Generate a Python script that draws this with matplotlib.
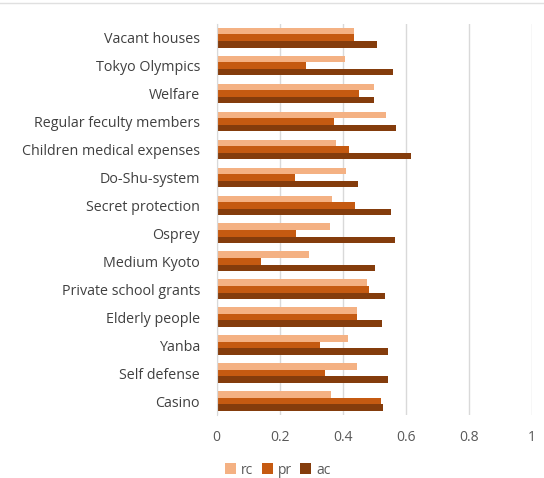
import matplotlib
matplotlib.use("Agg")
import matplotlib.pyplot as plt
import numpy as np
from matplotlib.lines import Line2D

categories = ["Vacant houses", "Tokyo Olympics", "Welfare", "Regular feculty members",
              "Children medical expenses", "Do-Shu-system", "Secret protection", "Osprey",
              "Medium Kyoto", "Private school grants", "Elderly people", "Yanba",
              "Self defense", "Casino"]
rc = [0.436, 0.406, 0.499, 0.537, 0.380, 0.409, 0.366, 0.359, 0.292, 0.477, 0.446, 0.416, 0.446, 0.363]
pr = [0.436, 0.283, 0.453, 0.372, 0.419, 0.249, 0.440, 0.252, 0.142, 0.483, 0.446, 0.327, 0.344, 0.520]
ac = [0.510, 0.561, 0.499, 0.570, 0.618, 0.450, 0.553, 0.567, 0.504, 0.533, 0.524, 0.544, 0.544, 0.527]
series_names = ["rc", "pr", "ac"]
colors = ["#F4B183", "#C55A11", "#843C0C"]
xticks = [0, 0.2, 0.4, 0.6, 0.8, 1]
xticklabels = ["0", "0.2", "0.4", "0.6", "0.8", "1"]

plt.rcParams['font.family'] = ['Open Sans', 'DejaVu Sans']
fig = plt.figure(figsize=(5.44, 4.78), dpi=100)
ax = fig.add_axes([216.7/544, (478-415)/478, (531.7-216.7)/544, (415-23.7)/478])

y = np.arange(len(categories))
h = 0.235
for i, (vals, c, n) in enumerate(zip([rc, pr, ac], colors, series_names)):
    ax.barh(y + (i - 1) * h, vals, height=h, color=c, label=n, zorder=3)

ax.set_xlim(0, 1)
ax.set_ylim(len(categories) - 0.5, -0.5)
ax.set_yticks(y)
ax.set_yticklabels(categories, fontsize=10.3, color="#404040")
ax.set_xticks(xticks)
ax.set_xticklabels(xticklabels, fontsize=10, color="#595959")
ax.tick_params(axis='both', length=0)
ax.tick_params(axis='y', pad=12)
ax.tick_params(axis='x', pad=11)
ax.grid(axis='x', color="#D9D9D9", linewidth=1, zorder=0)
for s in ["top", "right", "bottom"]:
    ax.spines[s].set_visible(False)
ax.spines["left"].set_color("#D9D9D9")
ax.spines["left"].set_zorder(4)

leg = fig.legend(loc="center", bbox_to_anchor=(278/544, 1 - 470/478), ncol=3, frameon=False,
                 fontsize=10, handlelength=0.8, handleheight=0.8, columnspacing=0.6,
                 handletextpad=0.35, labelcolor="#595959")

fig.add_artist(Line2D([0, 1], [1 - 3/478, 1 - 3/478], color="#E0E0E0", linewidth=1,
                      transform=fig.transFigure))

fig.savefig("out.png", dpi=100)
